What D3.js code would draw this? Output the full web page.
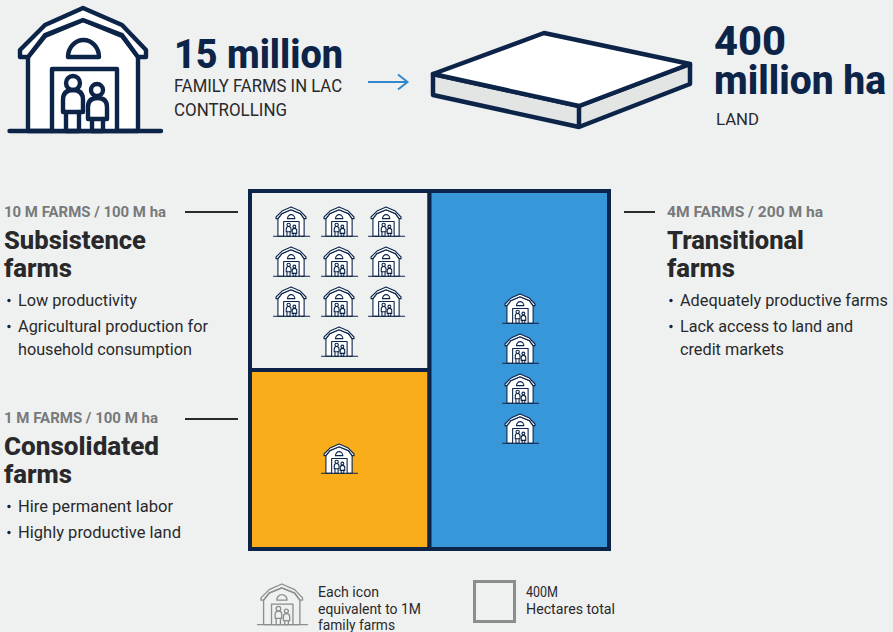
<!DOCTYPE html>
<html><head><meta charset="utf-8">
<script src="https://cdn.jsdelivr.net/npm/d3@7"></script>
<style>html,body{margin:0;padding:0;background:#eff1f1}svg{display:block}text{font-family:Roboto,Lato,sans-serif}</style>
</head><body><script>
const segmentNames = ["Subsistence","Consolidated","Transitional"];
const segmentHectares = [100,100,200];
const segmentFarms = [10,1,4];
const segmentColors = ["#eff1f1","#f9ad1b","#3797d8"];
const headTexts = ["15 million","400","million ha"];
const navy="#0d2449", dark="#29292b", grey="#77797b";

const W=893,H=632;
const svg=d3.select("body").append("svg").attr("width",W).attr("height",H);
svg.append("rect").attr("width",W).attr("height",H).attr("fill","#eff1f1");

function house(g,color,fill,sw){
  const a={fill:fill,stroke:color,"stroke-width":sw,"stroke-linejoin":"round","stroke-linecap":"round"};
  const P=(d,o)=>{const p=g.append("path").attr("d",d);Object.entries(Object.assign({},a,o||{})).forEach(([k,v])=>p.attr(k,v));return p;};
  P("M28 57V131H138V57L122 36L83 20L45 36Z");
  P("M20 50L45 25L83 8L122 25L146 50V57H138L122 35L83 20L45 35L28 57H20Z");
  P("M68 57A15.5 17 0 0 1 99 57Z",{fill:"none"});
  P("M52 131V69H117V131",{fill:fill});
  P("M73 83m-7 0a7 7 0 1 0 14 0a7 7 0 1 0 -14 0",{fill:"none"});
  P("M63 112V100Q63 90 73 90Q83 90 83 100V112Z",{fill:"none"});
  P("M66 112V131H79V112",{fill:"none"});
  P("M97 90m-6 0a6 6 0 1 0 12 0a6 6 0 1 0 -12 0",{fill:"none"});
  P("M88 119V107Q88 98 97.5 98Q107 98 107 107V119Z",{fill:"none"});
  P("M92 119V131H103V119",{fill:"none"});
  P("M9.5 131H161",{fill:"none"});
}
const big=svg.append("g"); house(big,navy,"#fff",4.4);

function txt(x,y,s,size,weight,color,width){
  const t=svg.append("text").attr("x",x).attr("y",y).attr("font-size",size).attr("font-weight",weight).attr("fill",color).text(s);
  if(width) t.attr("textLength",width).attr("lengthAdjust","spacingAndGlyphs");
  return t;
}
txt(174,68,headTexts[0],40,800,navy,169);
txt(174,92,"FAMILY FARMS IN LAC",18,400,dark,168);
txt(174,116,"CONTROLLING",18,400,dark,113);
txt(714,55,headTexts[1],40,800,navy,72);
txt(714,94,headTexts[2],40,800,navy,172);
txt(716,125,"LAND",17,400,dark,43);

// arrow
svg.append("path").attr("d","M368 82H407.5M398 74.5L407.5 82L398 89.5").attr("fill","none").attr("stroke","#3388cc").attr("stroke-width",2);

// slab
const slab=(d,f)=>svg.append("path").attr("d",d).attr("fill",f).attr("stroke",navy).attr("stroke-width",4.5).attr("stroke-linejoin","round");
slab("M433 74V95L579 127L690 84V64L579 106Z","#e3e5e5");
slab("M433 74L544 33L690 64L579 106Z","#fff");
slab("M579 106V127","none");

// treemap panel: x spans hectares 0..400, left column stacks
const left=segmentHectares[0]+segmentHectares[1];
const px=d3.scaleLinear().domain([0,d3.sum(segmentHectares)]).range([250,609]);
const py=d3.scaleLinear().domain([0,left]).range([191,549]);
const splitX=px(left);
const cells=[
 {i:0,x0:250,x1:splitX,y0:py(0),y1:py(segmentHectares[0])},
 {i:1,x0:250,x1:splitX,y0:py(segmentHectares[0]),y1:py(left)},
 {i:2,x0:splitX,x1:609,y0:py(0),y1:py(left)}
];
svg.selectAll(".cell").data(cells).join("rect").attr("class","cell")
 .attr("x",d=>d.x0).attr("y",d=>d.y0).attr("width",d=>d.x1-d.x0).attr("height",d=>d.y1-d.y0)
 .attr("fill",d=>segmentColors[d.i]).attr("stroke",navy).attr("stroke-width",4);

// small icons
const iconScale=0.238;
function small(cx,top){
  const g=svg.append("g").attr("transform",`translate(${cx-85*iconScale},${top-8*iconScale}) scale(${iconScale})`);
  house(g,navy,"#fff",4.6);
}
const rowY=[207,247,287];
const colX=[291.5,339.5,386.5];
rowY.forEach(y=>colX.forEach(x=>small(x,y)));
small(339.5,327);
small(339.5,444);
d3.range(segmentFarms[2]).forEach(i=>small(520.5,[294,334,374,414][i]));

// side labels
function block(x,y,head,title,w){
  txt(x,y,head,14.5,700,grey,w[0]);
  txt(x,y+32,title[0],26.5,800,dark,w[1]);
  txt(x,y+60,title[1],26.5,800,dark,w[2]);
}
function bullet(x,y,lines){
  svg.append("circle").attr("cx",x+4).attr("cy",y-5.5).attr("r",1.7).attr("fill",navy);
  lines.forEach(([l,w],i)=>txt(x+13,y+i*23,l,16.4,400,dark,w));
}
block(4,217,"10 M FARMS / 100 M ha",["Subsistence","farms"],[162,142,68]);
bullet(5,306,[["Low productivity",119]]);
bullet(5,332,[["Agricultural production for",190],["household consumption",174]]);
block(4,423,"1 M FARMS / 100 M ha",["Consolidated","farms"],[154,155,68]);
bullet(5,512,[["Hire permanent labor",155]]);
bullet(5,538,[["Highly productive land",163]]);
block(667,217,"4M FARMS / 200 M ha",["Transitional","farms"],[156,137,68]);
bullet(667,306,[["Adequately productive farms",208]]);
bullet(667,332,[["Lack access to land and",173],["credit markets",104]]);
[[185,238,212],[185,238,419],[624,655,212]].forEach(([a,b,y])=>svg.append("line").attr("x1",a).attr("x2",b).attr("y1",y).attr("y2",y).attr("stroke","#2a2a2c").attr("stroke-width",2));

// legend
const lg=svg.append("g").attr("transform","translate(257,584) scale(0.33) translate(-8,-8)");
house(lg,"#8b8d8e","none",4);
[["Each icon",61],["equivalent to 1M",103],["family farms",77]].forEach(([s,w],i)=>txt(318,597+i*16.5,s,14,400,dark,w));
svg.append("rect").attr("x",474.5).attr("y",581.5).attr("width",40).attr("height",40).attr("fill","none").attr("stroke","#8b8d8e").attr("stroke-width",3);
[["400M",32],["Hectares total",89]].forEach(([s,w],i)=>txt(526,597+i*17,s,14.3,400,dark,w));
</script></body></html>
